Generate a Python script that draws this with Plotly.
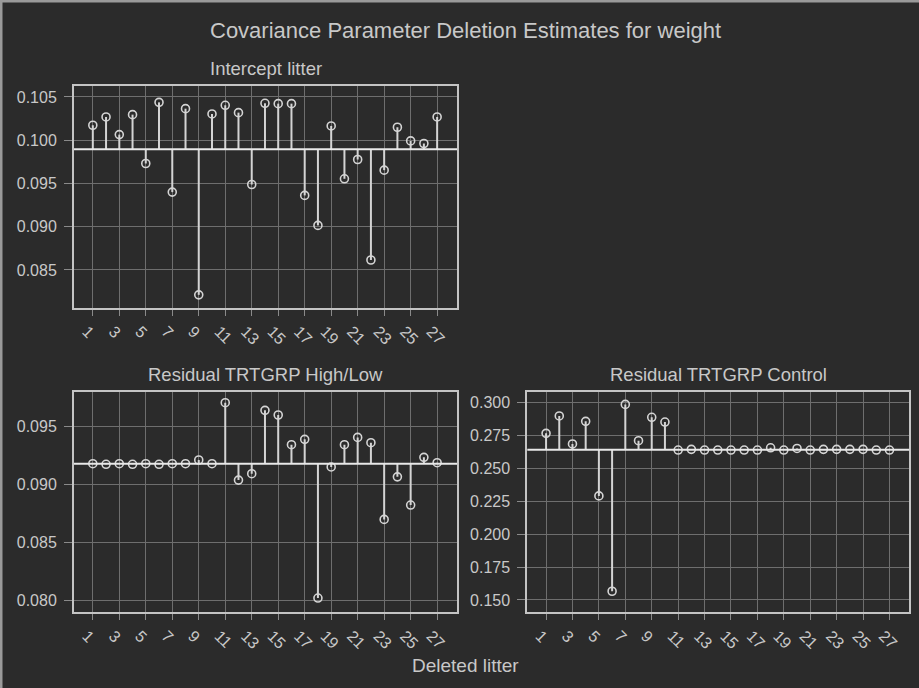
import plotly.graph_objects as go

# ---- data ----
litters = list(range(1, 28))
xtick_vals = list(range(1, 28, 2))
xtick_text = [str(v) for v in xtick_vals]

intercept_est = [0.10173, 0.10269, 0.10065, 0.10296, 0.09731, 0.10438, 0.09400, 0.10365, 0.08212,
                 0.10304, 0.10404, 0.10319, 0.09488, 0.10427, 0.10423, 0.10423, 0.09362, 0.09015,
                 0.10165, 0.09554, 0.09777, 0.08615, 0.09654, 0.10150, 0.09992, 0.09962, 0.10269]
intercept_ref = 0.09896
intercept_yticks = [0.085, 0.090, 0.095, 0.100, 0.105]

hl_est = [0.09175, 0.09170, 0.09175, 0.09170, 0.09175, 0.09170, 0.09175, 0.09175, 0.09207,
          0.09175, 0.09701, 0.09034, 0.09089, 0.09635, 0.09595, 0.09339, 0.09385, 0.08017,
          0.09147, 0.09339, 0.09402, 0.09356, 0.08695, 0.09062, 0.08819, 0.09230, 0.09184]
hl_ref = 0.09175
hl_yticks = [0.080, 0.085, 0.090, 0.095]

ctl_est = [0.2767, 0.2899, 0.2686, 0.2858, 0.2291, 0.1566, 0.2987, 0.2711, 0.2889,
           0.2853, 0.2640, 0.2645, 0.2640, 0.2640, 0.2640, 0.2640, 0.2640, 0.2657,
           0.2640, 0.2652, 0.2640, 0.2645, 0.2645, 0.2645, 0.2645, 0.2640, 0.2640]
ctl_ref = 0.2643
ctl_yticks = [0.150, 0.175, 0.200, 0.225, 0.250, 0.275, 0.300]

title_text = "Covariance Parameter Deletion Estimates for weight"
panel_titles = ["Intercept litter", "Residual TRTGRP High/Low", "Residual TRTGRP Control"]
xlabel = "Deleted litter"

# ---- style ----
W, H = 919, 688
BG = "#2b2b2b"
TXT = "#c8c8c8"
GRID = "#6e6e6e"
FRAME = "#c4c4c4"
STEM = "#d4d4d4"
FONT = "Liberation Sans, Arial, sans-serif"

def px_x(a, b):
    return [a / W, b / W]

def px_y(top, bottom):
    return [1 - bottom / H, 1 - top / H]

panels = [
    dict(est=intercept_est, ref=intercept_ref, yt=intercept_yticks, yr=[0.0806, 0.10627],
         xd=px_x(74, 457), yd=px_y(86, 308), fmt=".3f"),
    dict(est=hl_est, ref=hl_ref, yt=hl_yticks, yr=[0.07894, 0.09796],
         xd=px_x(74, 457), yd=px_y(391.7, 612.3), fmt=".3f"),
    dict(est=ctl_est, ref=ctl_ref, yt=ctl_yticks, yr=[0.1406, 0.30836],
         xd=px_x(527.3, 909.3), yd=px_y(391.7, 612.3), fmt=".3f"),
]

fig = go.Figure()
layout = dict(
    width=W, height=H,
    margin=dict(l=0, r=0, t=0, b=0),
    paper_bgcolor=BG, plot_bgcolor=BG,
    showlegend=False,
    font=dict(family=FONT, color=TXT, size=16),
    annotations=[], shapes=[],
)

for i, p in enumerate(panels):
    n = "" if i == 0 else str(i + 1)
    xa, ya = "x" + n, "y" + n
    sx, sy = [], []
    for xv, yv in zip(litters, p["est"]):
        sx += [xv, xv, None]
        sy += [p["ref"], yv, None]
    fig.add_trace(go.Scatter(x=sx, y=sy, mode="lines", xaxis=xa, yaxis=ya,
                             line=dict(color=STEM, width=2), hoverinfo="skip"))
    fig.add_trace(go.Scatter(x=litters, y=p["est"], mode="markers", xaxis=xa, yaxis=ya,
                             marker=dict(symbol="circle-open", size=8,
                                         color=STEM, line=dict(width=1.6, color=STEM))))
    layout["xaxis" + n] = dict(
        domain=p["xd"], anchor=ya, range=[-0.42, 28.5],
        tickvals=xtick_vals, ticktext=xtick_text, tickangle=45,
        showgrid=True, gridcolor=GRID, gridwidth=1, zeroline=False,
        showline=True, mirror=True, linecolor=FRAME, linewidth=2,
        ticks="outside", ticklen=6, tickcolor="#8a8a8a", tickwidth=1,
        ticklabelshift=-6,
        tickfont=dict(size=16, color=TXT), automargin=False,
    )
    layout["yaxis" + n] = dict(
        domain=p["yd"], anchor=xa, range=p["yr"],
        tickvals=p["yt"], tickformat=p["fmt"],
        showgrid=True, gridcolor=GRID, gridwidth=1, zeroline=False,
        showline=True, mirror=True, linecolor=FRAME, linewidth=2,
        ticks="outside", ticklen=8, tickcolor="#8a8a8a", tickwidth=1,
        ticklabelstandoff=4,
        tickfont=dict(size=16, color=TXT), automargin=False,
    )
    layout["shapes"].append(dict(type="line", xref=xa + " domain", yref=ya,
                                 x0=0, x1=1, y0=p["ref"], y1=p["ref"],
                                 line=dict(color="#e8e8e8", width=2), layer="above"))
    layout["annotations"].append(dict(text=panel_titles[i], xref="paper", yref="paper",
                                      x=(p["xd"][0] + p["xd"][1]) / 2, y=p["yd"][1],
                                      yshift=5, xanchor="center", yanchor="bottom",
                                      showarrow=False, font=dict(size=18.5, color=TXT)))

layout["annotations"].append(dict(text=title_text, xref="paper", yref="paper",
                                  x=465 / W, y=1 - 31 / H, xanchor="center", yanchor="middle",
                                  showarrow=False, font=dict(size=22, color=TXT)))
layout["annotations"].append(dict(text=xlabel, xref="paper", yref="paper",
                                  x=465 / W, y=1 - 665 / H, xanchor="center", yanchor="middle",
                                  showarrow=False, font=dict(size=19, color=TXT)))
# outer border (top and left edges visible in reference)
layout["shapes"].append(dict(type="line", xref="paper", yref="paper", x0=0, x1=1, y0=1, y1=1,
                             line=dict(color="#9a9a9a", width=5)))
layout["shapes"].append(dict(type="line", xref="paper", yref="paper", x0=0, x1=0, y0=0, y1=1,
                             line=dict(color="#9a9a9a", width=5)))

fig.update_layout(**layout)
fig.write_html("out.html",
               config={"displayModeBar": False},
               post_script="document.body.style.margin='0';"
                           "document.body.style.background='#2b2b2b';")
